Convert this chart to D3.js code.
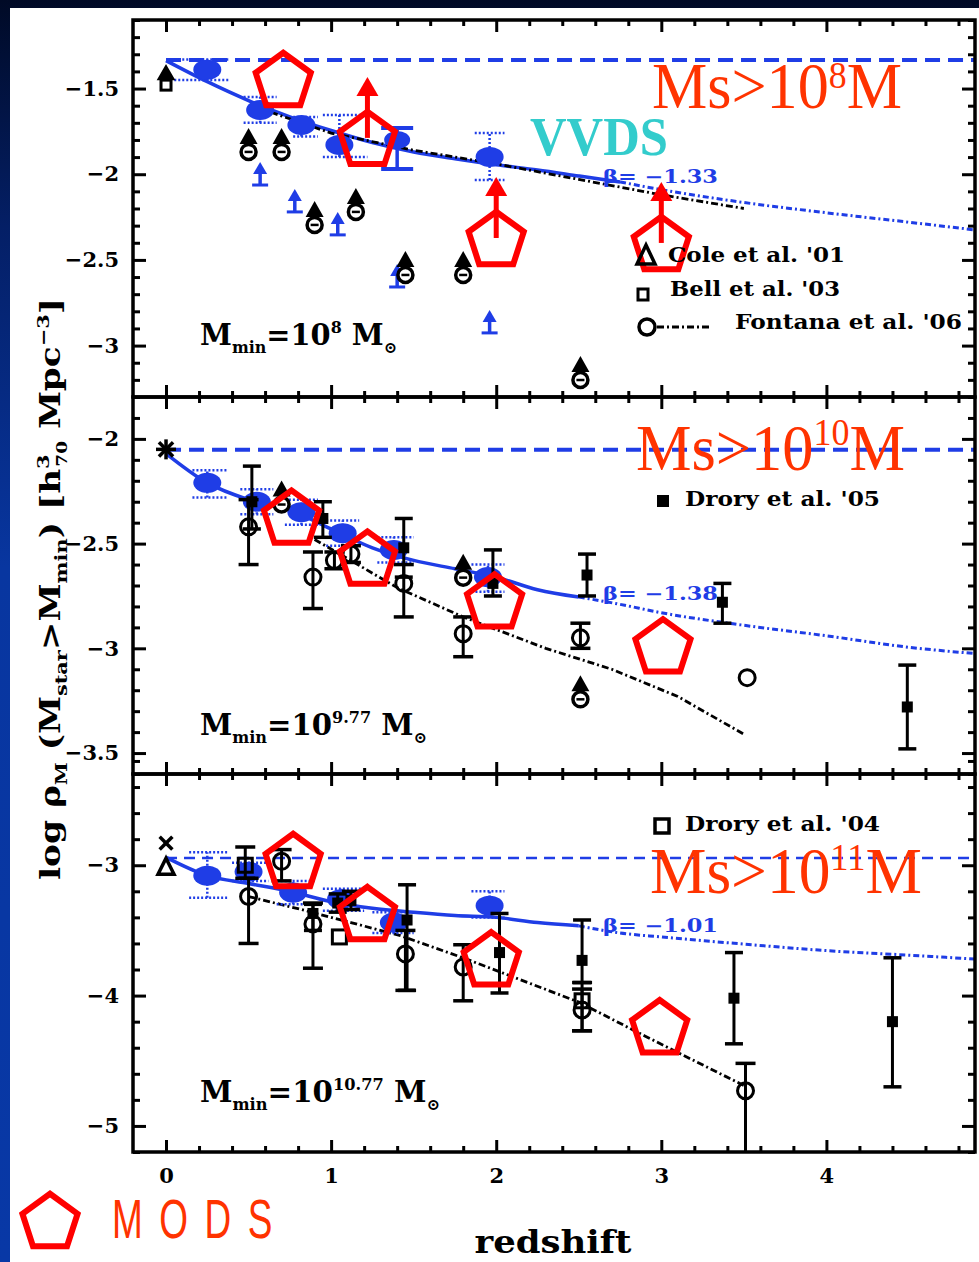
<!DOCTYPE html>
<html>
<head>
<meta charset="utf-8">
<script src="https://cdn.jsdelivr.net/npm/d3@7/dist/d3.min.js"></script>
<style>
  html, body { margin: 0; padding: 0; background: #000b2a; }
  svg { display: block; }
</style>
</head>
<body>
<svg id="chart" width="979" height="1262"></svg>
<script>
// ---------------- data ----------------
// redshift axis
const zDomain = [-0.2, 4.9];
const zMajor = [0, 1, 2, 3, 4];
const zLabels = ["0", "1", "2", "3", "4"];

// shared redshift grid of the (1+z)^beta fits
const fitZ = [0, 0.25, 0.5, 0.75, 1, 1.25, 1.5, 1.75, 2, 2.25, 2.5, 2.75, 3, 3.5, 4, 4.5, 4.9];

// ---- panel 1: M_min = 10^8 ----
const yDom1 = [-3.3, -1.1];
const yMajor1 = [-3, -2.5, -2, -1.5];
const yLabels1 = ["−3", "−2.5", "−2", "−1.5"];
const ref1 = -1.333;
const fit1 = [-1.337, -1.46, -1.57, -1.665, -1.745, -1.815, -1.87, -1.91, -1.945, -1.975, -2.01, -2.045, -2.09, -2.165, -2.225, -2.28, -2.325];
const fonZ1 = [0.55, 1.0, 1.5, 2.0, 2.5, 3.0, 3.5];
const fonV1 = [-1.61, -1.76, -1.86, -1.94, -2.03, -2.12, -2.2];
// [z, logrho, zlo, zhi, lo, hi]
const vvds1 = [
  [0.25, -1.39, 0.05, 0.38, -1.45, -1.33],
  [0.57, -1.625, 0.47, 0.67, -1.70, -1.55],
  [0.82, -1.713, 0.77, 0.92, -1.78, -1.666],
  [1.05, -1.829, 0.95, 1.22, -1.90, -1.654],
  [1.96, -1.899, 1.87, 2.05, -2.033, -1.759]
];
const vvdsBar1 = [[1.40, -1.80, -1.97, -1.73]];
const limits1 = [[0.57, -2.063], [0.78, -2.22], [1.04, -2.354], [1.40, -2.658], [1.96, -2.926]];
const comp1 = [[0.5, -1.829], [0.7, -1.829], [0.9, -2.255], [1.15, -2.179], [1.45, -2.547], [1.8, -2.547], [2.51, -3.16]];
const cole01 = [[0, -1.42]];
const bell03 = [[0, -1.48]];
const beta1 = "β= −1.33";
const mods1Z = [0.71, 1.22, 2.0, 3.0];
const mods1V = [-1.444, -1.788, -2.372, -2.401];
const mods1Lim = [false, true, true, true];

// ---- panel 2: M_min = 10^9.77 ----
const yDom2 = [-3.6, -1.8];
const yMajor2 = [-3.5, -3, -2.5, -2];
const yLabels2 = ["−3.5", "−3", "−2.5", "−2"];
const ref2 = -2.052;
const fit2 = [-2.07, -2.21, -2.29, -2.34, -2.43, -2.52, -2.58, -2.62, -2.66, -2.72, -2.755, -2.79, -2.83, -2.89, -2.94, -2.995, -3.025];
const fonZ2 = [0.9, 1.4, 1.8, 2.0, 2.3, 2.7, 3.1, 3.5];
const fonV2 = [-2.48, -2.71, -2.85, -2.91, -3.0, -3.1, -3.23, -3.41];
const vvds2 = [
  [0.25, -2.21, 0.16, 0.37, -2.28, -2.15],
  [0.55, -2.30, 0.45, 0.65, -2.36, -2.24],
  [0.82, -2.35, 0.72, 0.92, -2.41, -2.29],
  [1.07, -2.45, 0.97, 1.17, -2.51, -2.39],
  [1.38, -2.53, 1.28, 1.50, -2.59, -2.47],
  [1.95, -2.66, 1.85, 2.05, -2.73, -2.60]
];
// [z, logrho, lo, hi]
const drory05b = [
  [0.52, -2.30, -2.43, -2.13],
  [0.95, -2.38, -2.47, -2.30],
  [1.44, -2.52, -2.66, -2.38],
  [1.98, -2.69, -2.75, -2.53],
  [2.55, -2.65, -2.75, -2.55],
  [3.37, -2.78, -2.88, -2.69],
  [4.49, -3.28, -3.48, -3.08]
];
const fontana2 = [
  [0.50, -2.42, -2.60, -2.29],
  [0.89, -2.66, -2.81, -2.54],
  [1.02, -2.58, -2.62, -2.54],
  [1.12, -2.55, -2.59, -2.51],
  [1.44, -2.69, -2.85, -2.60],
  [1.80, -2.93, -3.04, -2.85],
  [2.51, -2.95, -3.00, -2.88],
  [3.52, -3.14, -3.14, -3.14]
];
const comp2 = [[0.7, -2.28], [1.8, -2.629], [2.51, -3.21]];
const star2 = [[0, -2.05]];
const beta2 = "β= −1.38";
const mods2Z = [0.76, 1.22, 1.99, 3.01];
const mods2V = [-2.371, -2.567, -2.771, -2.986];

// ---- panel 3: M_min = 10^10.77 ----
const yDom3 = [-5.2, -2.3];
const yMajor3 = [-5, -4, -3];
const yLabels3 = ["−5", "−4", "−3"];
const ref3 = -2.945;
const fit3 = [-2.94, -3.08, -3.14, -3.2, -3.28, -3.33, -3.36, -3.385, -3.4, -3.44, -3.465, -3.52, -3.55, -3.605, -3.655, -3.69, -3.72];
const fonZ3 = [0.5, 0.82, 1.12, 1.42, 1.82, 2.5, 2.9, 3.5];
const fonV3 = [-3.24, -3.34, -3.44, -3.54, -3.72, -4.05, -4.31, -4.69];
const vvds3 = [
  [0.25, -3.08, 0.14, 0.37, -3.25, -2.90],
  [0.50, -3.05, 0.40, 0.62, -3.12, -2.98],
  [0.77, -3.21, 0.67, 0.90, -3.30, -3.12],
  [1.06, -3.26, 0.95, 1.20, -3.35, -3.18],
  [1.38, -3.44, 1.25, 1.50, -3.52, -3.36],
  [1.96, -3.31, 1.85, 2.05, -3.40, -3.20]
];
const drory05c = [
  [0.89, -3.37, -3.50, -3.30],
  [1.04, -3.29, -3.36, -3.22],
  [1.12, -3.27, -3.34, -3.20],
  [1.46, -3.42, -3.96, -3.15],
  [2.02, -3.67, -3.98, -3.37],
  [2.52, -3.73, -3.90, -3.42],
  [3.44, -4.02, -4.37, -3.67],
  [4.40, -4.20, -4.70, -3.71]
];
const drory04 = [
  [0.48, -3.00, -3.10, -2.86],
  [1.05, -3.55, -3.55, -3.55],
  [2.52, -4.04, -4.27, -3.90]
];
const fontana3 = [
  [0.50, -3.24, -3.60, -3.10],
  [0.70, -2.97, -3.12, -2.88],
  [0.89, -3.45, -3.79, -3.29],
  [1.45, -3.68, -3.96, -3.50],
  [1.80, -3.78, -4.04, -3.61],
  [2.52, -4.11, -4.27, -3.95],
  [3.51, -4.73, -5.50, -4.52]
];
const cross3 = [[0, -2.83]];
const tri3 = [[0, -3.015]];
const beta3 = "β= −1.01";
const mods3Z = [0.77, 1.22, 1.97, 2.99];
const mods3V = [-2.96, -3.367, -3.714, -4.235];

// ---------------- drawing ----------------
const W = 979, H = 1262;
const SERIF = "'DejaVu Serif', serif";
const TIMES = "'Liberation Serif', 'Times New Roman', serif";
const BLUE = "#1f3de6";
const RED = "#ff0000";
const ORANGE = "#ff3300";

const svg = d3.select("#chart");
const defs = svg.append("defs");

const grad = defs.append("linearGradient").attr("id", "bg")
  .attr("x1", 0).attr("y1", 0).attr("x2", 0).attr("y2", 1);
[["0%", "#000a26"], ["18%", "#041f66"], ["45%", "#0836a0"], ["100%", "#0838a6"]]
  .forEach(s => grad.append("stop").attr("offset", s[0]).attr("stop-color", s[1]));
svg.append("rect").attr("width", W).attr("height", H).attr("fill", "url(#bg)");
svg.append("rect").attr("x", 10).attr("y", 8).attr("width", W - 10).attr("height", H - 8).attr("fill", "#fff");

const x = d3.scaleLinear().domain(zDomain).range([133, 975]);
const frames = [[20, 397], [397, 774], [774, 1152]];

const panels = [
  { dom: yDom1, major: yMajor1, labels: yLabels1, minor: 0.1, ref: ref1, refW: 4, refDash: "15,8",
    fit: fit1, split: 2.75, fonZ: fonZ1, fonV: fonV1, vvds: vvds1, vvdsBars: vvdsBar1, limits: limits1,
    comp: comp1, filled: [], circles: [], open: [], beta: beta1, betaY: 183,
    modsZ: mods1Z, modsV: mods1V, modsLim: mods1Lim },
  { dom: yDom2, major: yMajor2, labels: yLabels2, minor: 0.1, ref: ref2, refW: 4, refDash: "15,8",
    fit: fit2, split: 2.5, fonZ: fonZ2, fonV: fonV2, vvds: vvds2, vvdsBars: [], limits: [],
    comp: comp2, filled: drory05b, circles: fontana2, open: [], beta: beta2, betaY: 600,
    modsZ: mods2Z, modsV: mods2V, modsLim: [false, false, false, false] },
  { dom: yDom3, major: yMajor3, labels: yLabels3, minor: 0.2, ref: ref3, refW: 2.5, refDash: "11,7",
    fit: fit3, split: 2.5, fonZ: fonZ3, fonV: fonV3, vvds: vvds3, vvdsBars: [], limits: [],
    comp: [], filled: drory05c, circles: fontana3, open: drory04, beta: beta3, betaY: 932,
    modsZ: mods3Z, modsV: mods3V, modsLim: [false, false, false, false] }
];

function errbar(sel, cx, y1, y2, w) {
  if (Math.abs(y1 - y2) < 1) return;
  sel.append("line").attr("x1", cx).attr("x2", cx).attr("y1", y1).attr("y2", y2)
    .attr("stroke", "#000").attr("stroke-width", 3);
  [y1, y2].forEach(yy => sel.append("line").attr("x1", cx - w / 2).attr("x2", cx + w / 2)
    .attr("y1", yy).attr("y2", yy).attr("stroke", "#000").attr("stroke-width", 3.5));
}

function composite(sel, cx, cy) {
  sel.append("path").attr("d", `M${cx},${cy - 17}L${cx + 9},${cy - 1}L${cx - 9},${cy - 1}Z`).attr("fill", "#000");
  sel.append("circle").attr("cx", cx).attr("cy", cy + 7).attr("r", 7.5)
    .attr("fill", "#fff").attr("stroke", "#000").attr("stroke-width", 3.5);
  sel.append("line").attr("x1", cx - 4).attr("x2", cx + 4).attr("y1", cy + 7).attr("y2", cy + 7)
    .attr("stroke", "#000").attr("stroke-width", 2.5);
}

function pentagon(sel, cx, cy, R, sw) {
  const c = cy + 0.095 * R;
  const pts = d3.range(5).map(k => {
    const a = -Math.PI / 2 + k * 2 * Math.PI / 5;
    return [cx + R * Math.cos(a), c + R * Math.sin(a)];
  });
  sel.append("path").attr("d", d3.line()(pts) + "Z")
    .attr("fill", "none").attr("stroke", RED).attr("stroke-width", sw).attr("stroke-linejoin", "miter");
}

function upArrow(sel, cx, cy) {
  sel.append("line").attr("x1", cx).attr("x2", cx).attr("y1", cy).attr("y2", cy - 44)
    .attr("stroke", RED).attr("stroke-width", 5);
  sel.append("path").attr("d", `M${cx},${cy - 61}L${cx + 11},${cy - 42}L${cx - 11},${cy - 42}Z`).attr("fill", RED);
}

panels.forEach((p, i) => {
  const [top, bottom] = frames[i];
  const y = d3.scaleLinear().domain(p.dom).range([bottom, top]);
  const g = svg.append("g");
  const clipId = "clip" + i;
  defs.append("clipPath").attr("id", clipId).append("rect")
    .attr("x", 133).attr("y", top).attr("width", 842).attr("height", bottom - top);
  const plot = g.append("g").attr("clip-path", `url(#${clipId})`);

  // local (z=0) density reference
  plot.append("line").attr("x1", x(0)).attr("x2", x(4.9)).attr("y1", y(p.ref)).attr("y2", y(p.ref))
    .attr("stroke", BLUE).attr("stroke-width", p.refW).attr("stroke-dasharray", p.refDash);

  // (1+z)^beta fit: solid over the fitted range, dotted beyond
  const line = d3.line().x(d => x(d[0])).y(d => y(d[1])).curve(d3.curveMonotoneX);
  const pts = fitZ.map((z, k) => [z, p.fit[k]]);
  plot.append("path").datum(pts.filter(d => d[0] <= p.split)).attr("d", line)
    .attr("fill", "none").attr("stroke", BLUE).attr("stroke-width", 3.5);
  plot.append("path").datum(pts.filter(d => d[0] >= p.split)).attr("d", line)
    .attr("fill", "none").attr("stroke", BLUE).attr("stroke-width", 3).attr("stroke-dasharray", "6,3,2,3");

  // dash-dot literature trend
  const fon = p.fonZ.map((z, k) => [z, p.fonV[k]]);
  plot.append("path").datum(fon).attr("d", d3.line().x(d => x(d[0])).y(d => y(d[1])))
    .attr("fill", "none").attr("stroke", "#000").attr("stroke-width", 2.8).attr("stroke-dasharray", "7,3,2,3");

  // VVDS-style blue points with dotted error boxes
  p.vvds.forEach(d => {
    const [z, v, zlo, zhi, lo, hi] = d;
    [lo, hi].forEach(vv => plot.append("line").attr("x1", x(zlo)).attr("x2", x(zhi))
      .attr("y1", y(vv)).attr("y2", y(vv)).attr("stroke", BLUE).attr("stroke-width", 2.5).attr("stroke-dasharray", "2,2"));
    plot.append("line").attr("x1", x(z)).attr("x2", x(z)).attr("y1", y(lo)).attr("y2", y(hi))
      .attr("stroke", BLUE).attr("stroke-width", 2.5).attr("stroke-dasharray", "2,2");
    plot.append("ellipse").attr("cx", x(z)).attr("cy", y(v)).attr("rx", 14).attr("ry", 10).attr("fill", BLUE);
  });
  p.vvdsBars.forEach(d => {
    const [z, v, lo, hi] = d;
    plot.append("line").attr("x1", x(z)).attr("x2", x(z)).attr("y1", y(lo)).attr("y2", y(hi))
      .attr("stroke", BLUE).attr("stroke-width", 3.5);
    [lo, hi].forEach(vv => plot.append("line").attr("x1", x(z) - 16).attr("x2", x(z) + 16)
      .attr("y1", y(vv)).attr("y2", y(vv)).attr("stroke", BLUE).attr("stroke-width", 4));
    plot.append("ellipse").attr("cx", x(z)).attr("cy", y(v)).attr("rx", 13).attr("ry", 9).attr("fill", BLUE);
  });

  // blue lower limits
  p.limits.forEach(d => {
    const cx = x(d[0]), cy = y(d[1]);
    plot.append("line").attr("x1", cx - 8).attr("x2", cx + 8).attr("y1", cy).attr("y2", cy)
      .attr("stroke", BLUE).attr("stroke-width", 3);
    plot.append("line").attr("x1", cx).attr("x2", cx).attr("y1", cy).attr("y2", cy - 12)
      .attr("stroke", BLUE).attr("stroke-width", 3.5);
    plot.append("path").attr("d", `M${cx},${cy - 23}L${cx + 7},${cy - 11}L${cx - 7},${cy - 11}Z`).attr("fill", BLUE);
  });

  // black literature points
  p.circles.forEach(d => {
    errbar(plot, x(d[0]), y(d[2]), y(d[3]), 20);
    plot.append("circle").attr("cx", x(d[0])).attr("cy", y(d[1])).attr("r", 8)
      .attr("fill", "none").attr("stroke", "#000").attr("stroke-width", 3);
  });
  p.open.forEach(d => {
    errbar(plot, x(d[0]), y(d[2]), y(d[3]), 20);
    plot.append("rect").attr("x", x(d[0]) - 7).attr("y", y(d[1]) - 7).attr("width", 14).attr("height", 14)
      .attr("fill", "none").attr("stroke", "#000").attr("stroke-width", 3);
  });
  p.filled.forEach(d => {
    errbar(plot, x(d[0]), y(d[2]), y(d[3]), 18);
    plot.append("rect").attr("x", x(d[0]) - 5.5).attr("y", y(d[1]) - 5.5).attr("width", 11).attr("height", 11)
      .attr("fill", "#000");
  });
  p.comp.forEach(d => composite(plot, x(d[0]), y(d[1])));

  // axes: ticks point inward on all four sides
  const yMinor = d3.range(Math.round(p.dom[0] / p.minor), Math.round(p.dom[1] / p.minor) + 1)
    .map(k => +(k * p.minor).toFixed(2)).filter(v => !p.major.includes(v));
  const xMinor = d3.range(0, 25).map(k => +(k * 0.2).toFixed(1)).filter(v => !zMajor.includes(v));

  const fmtY = d => p.labels[p.major.indexOf(d)];
  const fmtX = d => zLabels[zMajor.indexOf(d)];
  const styleAxis = a => {
    a.select(".domain").remove();
    a.selectAll("line").attr("stroke", "#000").attr("stroke-width", 3);
    a.selectAll("text").filter(function () { return !this.textContent; }).remove();
    a.selectAll("text").attr("font-family", SERIF).attr("font-weight", "bold")
      .attr("font-size", 21).attr("fill", "#000");
  };
  g.append("g").attr("transform", "translate(133,0)")
    .call(d3.axisLeft(y).tickValues(p.major).tickSize(-13).tickPadding(14).tickFormat(fmtY)).call(styleAxis);
  g.append("g").attr("transform", "translate(133,0)")
    .call(d3.axisLeft(y).tickValues(yMinor).tickSize(-7).tickFormat("")).call(styleAxis);
  g.append("g").attr("transform", "translate(975,0)")
    .call(d3.axisRight(y).tickValues(p.major).tickSize(-13).tickFormat("")).call(styleAxis);
  g.append("g").attr("transform", "translate(975,0)")
    .call(d3.axisRight(y).tickValues(yMinor).tickSize(-7).tickFormat("")).call(styleAxis);
  g.append("g").attr("transform", `translate(0,${bottom})`)
    .call(d3.axisBottom(x).tickValues(zMajor).tickSize(-12).tickPadding(16).tickFormat(i === 2 ? fmtX : ""))
    .call(styleAxis);
  g.append("g").attr("transform", `translate(0,${bottom})`)
    .call(d3.axisBottom(x).tickValues(xMinor).tickSize(-6).tickFormat("")).call(styleAxis);
  g.append("g").attr("transform", `translate(0,${top})`)
    .call(d3.axisTop(x).tickValues(zMajor).tickSize(-12).tickFormat("")).call(styleAxis);
  g.append("g").attr("transform", `translate(0,${top})`)
    .call(d3.axisTop(x).tickValues(xMinor).tickSize(-6).tickFormat("")).call(styleAxis);
  g.append("rect").attr("x", 133).attr("y", top).attr("width", 842).attr("height", bottom - top)
    .attr("fill", "none").attr("stroke", "#000").attr("stroke-width", 3.5);

  // beta label of the fit
  g.append("text").attr("x", 603).attr("y", p.betaY).text(p.beta)
    .attr("font-family", SERIF).attr("font-weight", "bold").attr("font-size", 18)
    .attr("fill", BLUE).attr("textLength", 115).attr("lengthAdjust", "spacingAndGlyphs");

  // z = 0 local estimates
  if (i === 0) {
    cole01.forEach(d => g.append("path").attr("transform", `translate(${x(d[0])},${y(d[1])})`)
      .attr("d", d3.symbol(d3.symbolTriangle, 90)()).attr("fill", "#000").attr("stroke", "#000").attr("stroke-width", 2.5));
    bell03.forEach(d => g.append("rect").attr("x", x(d[0]) - 5).attr("y", y(d[1]) - 5).attr("width", 10).attr("height", 10)
      .attr("fill", "#fff").attr("stroke", "#000").attr("stroke-width", 3));
  }
  if (i === 1) {
    star2.forEach(d => [0, 45, 90, 135].forEach(a => g.append("line")
      .attr("transform", `translate(${x(d[0])},${y(d[1])}) rotate(${a})`)
      .attr("x1", -10).attr("x2", 10).attr("stroke", "#000").attr("stroke-width", 3.5)));
  }
  if (i === 2) {
    cross3.forEach(d => [45, 135].forEach(a => g.append("line")
      .attr("transform", `translate(${x(d[0])},${y(d[1])}) rotate(${a})`)
      .attr("x1", -9).attr("x2", 9).attr("stroke", "#000").attr("stroke-width", 3.5)));
    tri3.forEach(d => g.append("path").attr("transform", `translate(${x(d[0])},${y(d[1])})`)
      .attr("d", "M0,-9L8,7L-8,7Z").attr("fill", "none").attr("stroke", "#000").attr("stroke-width", 3.5));
  }

  // MODS points
  p.modsZ.forEach((z, k) => {
    const cx = x(z), cy = y(p.modsV[k]);
    pentagon(g, cx, cy, 29, 6);
    if (p.modsLim[k]) upArrow(g, cx, cy);
  });
});

// ---------------- annotations ----------------
// stellar-mass threshold labels: base text, raised exponent, trailing unit, set side by side
function massLabel(xp, yp, sup, shift, width) {
  const g = svg.append("g");
  const part = (s, size, dyp) => g.append("text").attr("y", yp - dyp).text(s)
    .attr("font-family", TIMES).attr("font-size", size).attr("fill", ORANGE);
  const a = part("Ms>10", 66, 0), b = part(sup, 38, shift), c = part("M", 66, 0);
  const wa = a.node().getComputedTextLength(), wb = b.node().getComputedTextLength();
  const wc = c.node().getComputedTextLength();
  b.attr("x", wa);
  c.attr("x", wa + wb);
  g.attr("transform", `translate(${xp},0) scale(${width / (wa + wb + wc)},1)`);
}
massLabel(652, 108, "8", 20, 250);
massLabel(636, 470, "10", 25, 269);
massLabel(650, 893, "11", 23, 272);

svg.append("text").attr("x", 530).attr("y", 155).text("VVDS")
  .attr("font-family", TIMES).attr("font-weight", "bold").attr("font-size", 54).attr("fill", "#33cccc")
  .attr("textLength", 138).attr("lengthAdjust", "spacingAndGlyphs");

// M_min labels
function mminLabel(xp, yp, exp, width) {
  const t = svg.append("text").attr("x", xp).attr("y", yp).attr("font-family", SERIF)
    .attr("font-weight", "bold").attr("font-size", 29).attr("fill", "#000")
    .attr("textLength", width).attr("lengthAdjust", "spacingAndGlyphs");
  t.append("tspan").text("M");
  t.append("tspan").attr("dy", 8).attr("font-size", 16).text("min");
  t.append("tspan").attr("dy", -8).text("=10");
  t.append("tspan").attr("dy", -12).attr("font-size", 16).text(exp);
  t.append("tspan").attr("dy", 12).text(" M");
  t.append("tspan").attr("dy", 8).attr("font-size", 16).text("⊙");
}
mminLabel(200, 345, "8", 197);
mminLabel(200, 735, "9.77", 227);
mminLabel(200, 1102, "10.77", 240);

// legends
function legendText(xp, yp, s, width) {
  svg.append("text").attr("x", xp).attr("y", yp).text(s)
    .attr("font-family", SERIF).attr("font-weight", "bold").attr("font-size", 21).attr("fill", "#000")
    .attr("textLength", width).attr("lengthAdjust", "spacingAndGlyphs");
}
svg.append("path").attr("d", "M646,245L655,264L637,264Z").attr("fill", "none").attr("stroke", "#000").attr("stroke-width", 3.5);
legendText(668, 262, "Cole et al. '01", 177);
svg.append("rect").attr("x", 638).attr("y", 289).attr("width", 10).attr("height", 11)
  .attr("fill", "none").attr("stroke", "#000").attr("stroke-width", 3);
legendText(670, 296, "Bell et al. '03", 170);
svg.append("circle").attr("cx", 647).attr("cy", 327).attr("r", 8).attr("fill", "none").attr("stroke", "#000").attr("stroke-width", 3.5);
svg.append("line").attr("x1", 657).attr("x2", 712).attr("y1", 327).attr("y2", 327)
  .attr("stroke", "#000").attr("stroke-width", 2.8).attr("stroke-dasharray", "7,3,2,3");
legendText(735, 329, "Fontana et al. '06", 227);
svg.append("rect").attr("x", 657).attr("y", 495).attr("width", 12).attr("height", 12).attr("fill", "#000");
legendText(685, 506, "Drory et al. '05", 195);
svg.append("rect").attr("x", 655).attr("y", 819).attr("width", 14).attr("height", 14)
  .attr("fill", "none").attr("stroke", "#000").attr("stroke-width", 3.5);
legendText(685, 831, "Drory et al. '04", 195);

// axis titles
svg.append("text").attr("x", 553).attr("y", 1253).attr("text-anchor", "middle").text("redshift")
  .attr("font-family", SERIF).attr("font-weight", "bold").attr("font-size", 32).attr("fill", "#000")
  .attr("textLength", 157).attr("lengthAdjust", "spacingAndGlyphs");

const yt = svg.append("text").attr("transform", "translate(60,589) rotate(-90)").attr("text-anchor", "middle")
  .attr("font-family", SERIF).attr("font-weight", "bold").attr("font-size", 28).attr("fill", "#000")
  .attr("textLength", 582).attr("lengthAdjust", "spacingAndGlyphs");
yt.append("tspan").text("log ρ");
yt.append("tspan").attr("dy", 7).attr("font-size", 17).text("M");
yt.append("tspan").attr("dy", -7).text(" (M");
yt.append("tspan").attr("dy", 7).attr("font-size", 17).text("star");
yt.append("tspan").attr("dy", -7).text(">M");
yt.append("tspan").attr("dy", 7).attr("font-size", 17).text("min");
yt.append("tspan").attr("dy", -7).text(")  [h");
yt.append("tspan").attr("dy", -11).attr("font-size", 17).text("3");
yt.append("tspan").attr("dy", 18).attr("dx", -10).attr("font-size", 15).text("70");
yt.append("tspan").attr("dy", -7).text(" Mpc");
yt.append("tspan").attr("dy", -11).attr("font-size", 17).text("−3");
yt.append("tspan").attr("dy", 11).text("]");

// MODS key
pentagon(svg, 50, 1220, 29, 6);
svg.append("text").attr("transform", "translate(112,1238) scale(0.66,1)").text("MODS")
  .attr("font-family", "'Liberation Sans', Arial, sans-serif").attr("font-size", 56)
  .attr("letter-spacing", 25).attr("fill", ORANGE);
</script>
</body>
</html>
